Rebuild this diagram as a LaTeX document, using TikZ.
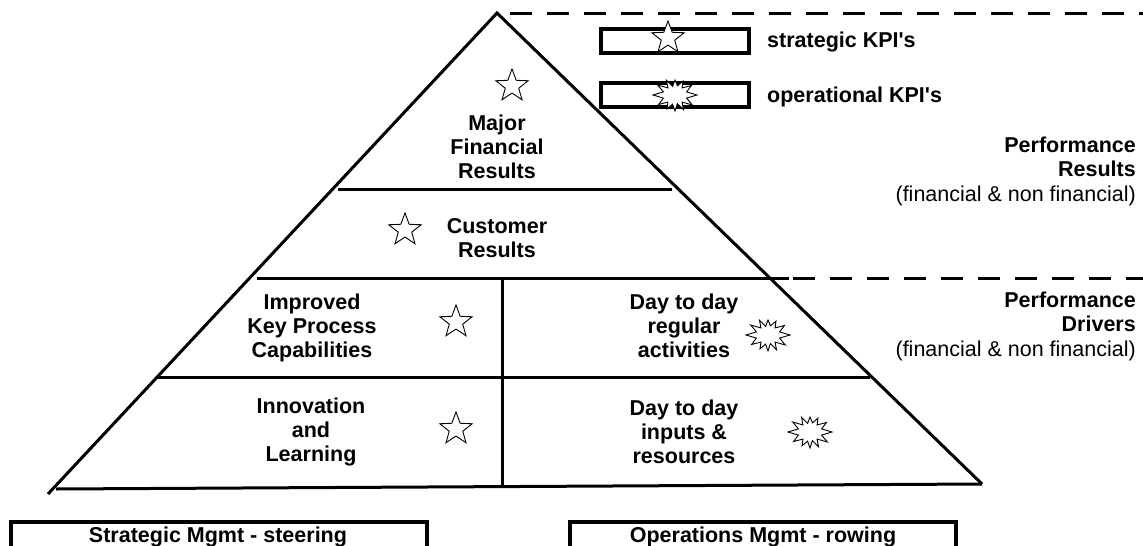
\documentclass[tikz,border=0pt]{standalone}
\usepackage{fontspec}
\setmainfont{Liberation Sans}
\usetikzlibrary{shapes.geometric}
\begin{document}
\begin{tikzpicture}[x=1pt,y=-1pt]
\useasboundingbox (0,0) rectangle (1143,546);
\tikzset{
  lbl/.style={font=\bfseries\fontsize{21.5}{23.7}\selectfont, align=center, inner sep=0pt},
  note/.style={font=\bfseries\fontsize{21.5}{24.5}\selectfont, align=right, inner sep=0pt, anchor=east},
  legtxt/.style={font=\bfseries\fontsize{21.5}{23}\selectfont, inner sep=0pt, anchor=west},
  kstar/.style={star, star points=5, star point ratio=2.4, draw, line width=0.9pt, minimum size=34pt, inner sep=0pt},
  thickline/.style={line width=3pt},
  boxline/.style={line width=4pt},
  dashline/.style={line width=3pt, dash pattern=on 22pt off 15pt},
  burst/.pic={\draw[line width=0.9pt, line join=miter, fill=white]
      (0:22) -- (15:12) -- (30:19) -- (45:10) -- (60:16) -- (75:9.5) -- (90:15) -- (105:9)
      -- (120:17) -- (135:10) -- (150:20) -- (165:12) -- (180:22) -- (195:12) -- (210:19)
      -- (225:10) -- (240:16) -- (255:9.5) -- (270:16) -- (285:9) -- (300:17) -- (315:10)
      -- (330:20) -- (345:12) -- cycle;}
}
% pyramid
\coordinate (apex) at (497,13);
\coordinate (bl) at (48,494);
\coordinate (br) at (982,484);
\draw[thickline] (bl) -- (apex) -- (br);
\draw[thickline] (56,489) -- (br);
\draw[thickline] (338,189) -- (672,189);
\draw[thickline] (257,278) -- (789,278);
\draw[thickline] (157,377) -- (870,377);
\draw[thickline] (502,278) -- (502,487);
\draw[dashline] (510,13) -- (1143,13);
\draw[dashline] (793,278) -- (1143,278);

% legend
\node[draw, boxline, minimum width=148pt, minimum height=24pt, inner sep=0pt] (box1) at (675,41) {};
\node[draw, boxline, minimum width=148pt, minimum height=24pt, inner sep=0pt] (box2) at (675,95) {};
\node[kstar, fill=white] (ls) at (668,38) {};
\pic[yscale=-1] at (675,95) {burst};
\node[legtxt] (lt1) at (767,42) {strategic KPI\textquotesingle s};
\node[legtxt] (lt2) at (767,97) {operational KPI\textquotesingle s};

% pyramid labels
\node[lbl] (mfr) at (497,147) {Major\\Financial\\Results};
\node[kstar] (s1) at (512,86) {};
\node[lbl] (cr) at (497,238) {Customer\\Results};
\node[kstar] (s2) at (405,230) {};
\node[lbl] (ikp) at (312,328) {Improved\\Key Process\\Capabilities};
\node[kstar] (s3) at (456,322) {};
\node[lbl] (dtr) at (684,326) {Day to day\\regular\\activities};
\pic[yscale=-1] at (768,335) {burst};
\node[lbl] (inl) at (311,432) {Innovation\\and\\Learning};
\node[kstar] (s4) at (456,429) {};
\node[lbl] (dti) at (684,432) {Day to day\\inputs \&\\resources};
\pic[yscale=-1] at (810,432) {burst};

% right notes
\node[note] (pr) at (1136,171) {Performance\\Results\\{\mdseries (financial \& non financial)}};
\node[note] (pd) at (1136,326) {Performance\\Drivers\\{\mdseries (financial \& non financial)}};

% bottom brackets
\draw[boxline] (11,546) -- (11,522) -- (427,522) -- (427,546);
\node[lbl] (sm) at (218,537) {Strategic Mgmt - steering};
\draw[boxline] (570,546) -- (570,522) -- (956,522) -- (956,546);
\node[lbl] (om) at (763,537) {Operations Mgmt - rowing};
\end{tikzpicture}
\end{document}
